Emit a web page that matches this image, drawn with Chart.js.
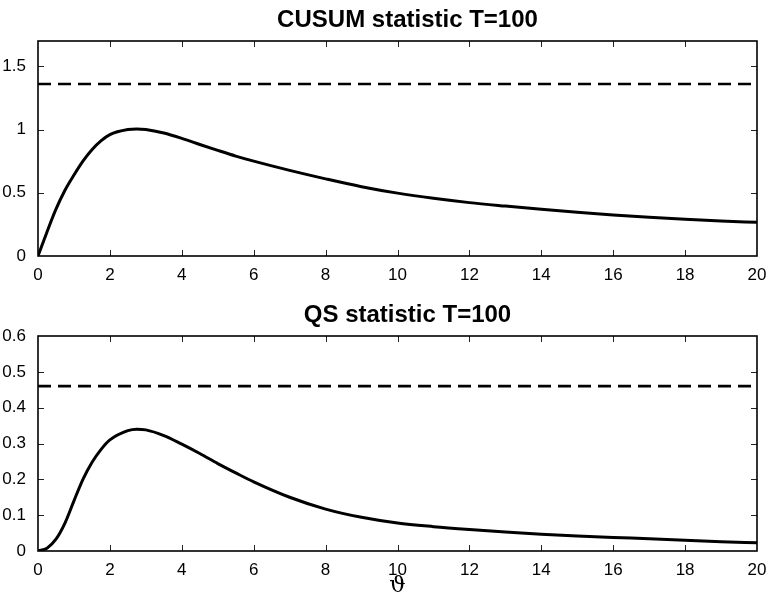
<!DOCTYPE html>
<html><head><meta charset="utf-8">
<script src="https://cdn.jsdelivr.net/npm/chart.js@4/dist/chart.umd.min.js"></script>
<style>
html,body{margin:0;padding:0;background:#fff;width:769px;height:599px;overflow:hidden}
.box{position:absolute;left:0;width:769px}
#b1{top:0;height:300px}
#b2{top:300px;height:299px}
</style></head><body>
<div class="box" id="b1"><canvas id="c1"></canvas></div>
<div class="box" id="b2"><canvas id="c2"></canvas></div>
<script>
const thetaGrid   = [0,0.25,0.5,0.75,1,1.25,1.5,1.75,2,2.5,2.75,3,3.5,4,4.5,5,5.5,6,7,8,9,10,11,12,13,14,15,16,17,18,19,20];
const cusumValues = [0,0.19,0.37,0.52,0.64,0.75,0.84,0.91,0.96,1.0,1.005,1.0,0.972,0.93,0.882,0.835,0.79,0.75,0.677,0.61,0.548,0.497,0.456,0.422,0.395,0.37,0.346,0.325,0.306,0.29,0.277,0.266];
const qsValues    = [0,0.008,0.033,0.078,0.14,0.2,0.247,0.283,0.31,0.336,0.34,0.338,0.322,0.298,0.272,0.244,0.218,0.193,0.15,0.117,0.094,0.078,0.068,0.06,0.053,0.047,0.042,0.038,0.034,0.03,0.026,0.023];
const cusumCritical = 1.36;
const qsCritical = 0.46;
const xTicks = [0,2,4,6,8,10,12,14,16,18,20];
const cusumYTicks = [0,0.5,1,1.5];
const qsYTicks = [0,0.1,0.2,0.3,0.4,0.5,0.6];
const chartTitles = ['CUSUM statistic T=100','QS statistic T=100'];
const xAxisLabel = 'ϑ';

const FONT = '"Liberation Sans", Arial, Helvetica, sans-serif';

const framePlugin = {
  id: 'frame',
  afterDatasetsDraw(chart, args, opts) {
    const ctx = chart.ctx;
    const {left, right, top, bottom} = chart.chartArea;
    const xs = chart.scales.x, ys = chart.scales.y;
    const L = 6;
    ctx.save();
    ctx.strokeStyle = '#222';
    ctx.lineWidth = 1;
    ctx.beginPath();
    xs.ticks.forEach(t => {
      const p = Math.round(xs.getPixelForValue(t.value)) + 0.5;
      if (p <= left + 1 || p >= right - 1) return;
      ctx.moveTo(p, bottom); ctx.lineTo(p, bottom - L);
      ctx.moveTo(p, top); ctx.lineTo(p, top + L);
    });
    ys.ticks.forEach(t => {
      const p = Math.round(ys.getPixelForValue(t.value)) + 0.5;
      if (p <= top + 1 || p >= bottom - 1) return;
      ctx.moveTo(left, p); ctx.lineTo(left + L, p);
      ctx.moveTo(right, p); ctx.lineTo(right - L, p);
    });
    ctx.stroke();
    ctx.strokeStyle = '#000';
    ctx.lineWidth = 1.6;
    ctx.strokeRect(left, top, right - left, bottom - top);
    ctx.fillStyle = '#000';
    ctx.font = 'bold 24px ' + FONT;
    ctx.textAlign = 'center';
    ctx.textBaseline = 'alphabetic';
    ctx.fillText(opts.text, (left + right) / 2 + opts.dx, top - opts.gap);
    ctx.restore();
  }
};

function makeChart(id, values, crit, yTicks, yMax, title, xHeight, padTop, showXTitle) {
  const curve = thetaGrid.map((x, i) => ({x, y: values[i]}));
  const critLine = [{x: xTicks[0], y: crit}, {x: xTicks[xTicks.length - 1], y: crit}];
  return new Chart(document.getElementById(id), {
    type: 'scatter',
    data: {
      datasets: [
        {data: curve, showLine: true, borderColor: '#000', borderWidth: 3, pointRadius: 0, cubicInterpolationMode: 'monotone', fill: false},
        {data: critLine, showLine: true, borderColor: '#000', borderWidth: 2.6, borderDash: [13, 7], pointRadius: 0, fill: false}
      ]
    },
    options: {
      responsive: true,
      maintainAspectRatio: false,
      animation: false,
      devicePixelRatio: 1,
      layout: {padding: {left: 0, right: 12, top: padTop, bottom: 0}},
      plugins: {
        legend: {display: false},
        tooltip: {enabled: false},
        title: {display: false},
        frame: {text: title, dx: 10, gap: 14}
      },
      scales: {
        x: {
          type: 'linear', min: 0, max: 20,
          grid: {display: false},
          border: {display: false},
          afterBuildTicks: s => { s.ticks = xTicks.map(v => ({value: v})); },
          afterFit: s => { s.height = xHeight; },
          ticks: {font: {family: FONT, size: 17}, color: '#000', padding: 1, maxRotation: 0, autoSkip: false, callback: v => String(v)},
          title: {display: showXTitle, text: xAxisLabel, color: '#000', font: {family: '"DejaVu Serif", serif', size: 23, lineHeight: 1}, padding: {top: 0, bottom: 1}}
        },
        y: {
          type: 'linear', min: 0, max: yMax,
          grid: {display: false},
          border: {display: false},
          afterBuildTicks: s => { s.ticks = yTicks.map(v => ({value: v})); },
          afterFit: s => { s.width = 38; },
          ticks: {font: {family: FONT, size: 17}, color: '#000', padding: 4, autoSkip: false, callback: v => String(v)}
        }
      }
    },
    plugins: [framePlugin]
  });
}

makeChart('c1', cusumValues, cusumCritical, cusumYTicks, 1.7, chartTitles[0], 44, 41, false);
makeChart('c2', qsValues, qsCritical, qsYTicks, 0.6, chartTitles[1], 48, 36, true);
</script>
</body></html>
